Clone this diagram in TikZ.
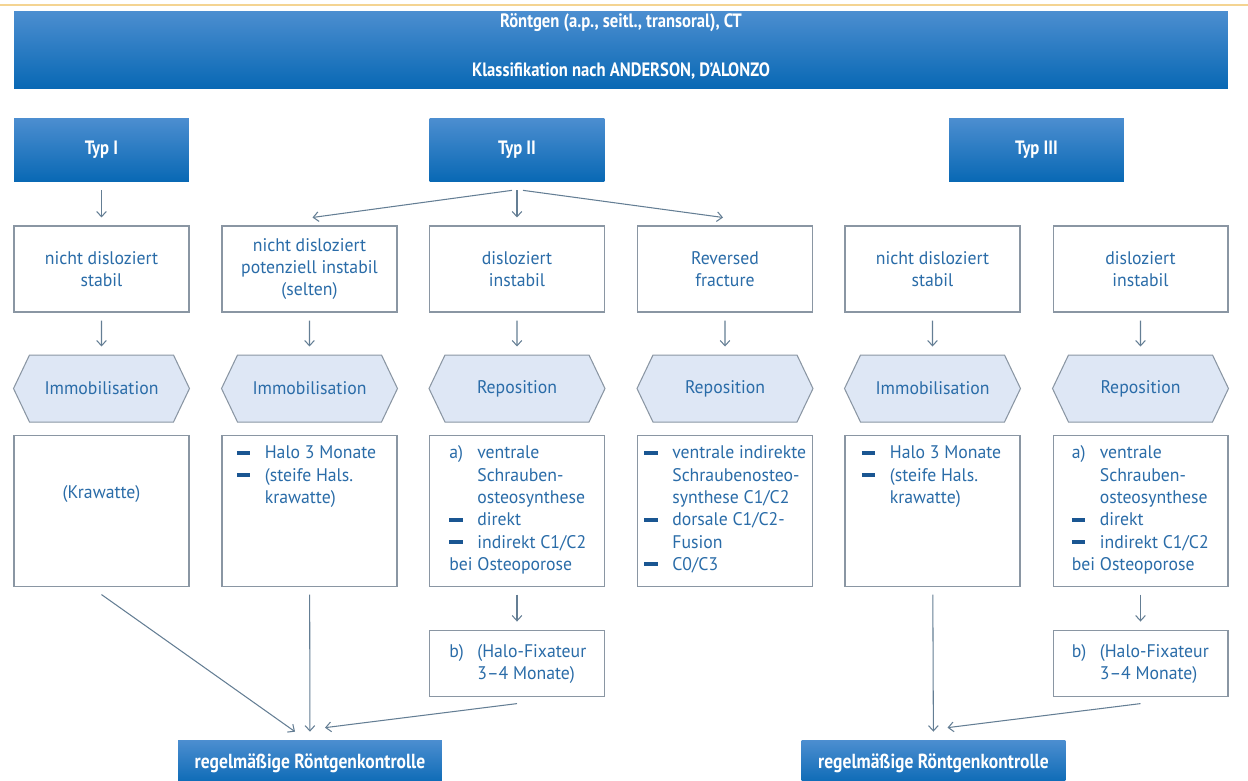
\documentclass[tikz,border=0pt]{standalone}
\usepackage{fontspec}
\setmainfont{PT Sans}[FakeStretch=0.97]
\newfontfamily\hdrfont{PT Sans}[FakeStretch=0.86]
\usepackage{tikz}
\usetikzlibrary{shapes.symbols, arrows.meta, positioning, calc}
\definecolor{hdrtop}{RGB}{76,142,208}
\definecolor{hdrbot}{RGB}{8,104,180}
\definecolor{txtblue}{RGB}{42,108,168}
\definecolor{framegray}{RGB}{138,150,163}
\definecolor{hexfill}{RGB}{222,231,245}
\definecolor{linegray}{RGB}{100,126,148}
\definecolor{bulletblue}{RGB}{26,86,146}
\definecolor{goldline}{RGB}{244,212,146}
\newcommand{\bodyfont}{\fontsize{10.4}{12.7}\selectfont}
\newcommand{\dashitem}{\makebox[0.56cm][l]{\textcolor{bulletblue}{\rule[2.3pt]{0.27cm}{0.08cm}}}}
\newcommand{\hang}{\hspace*{0.56cm}}
\newcommand{\enumlabel}[1]{\makebox[0.56cm][l]{#1}}
\tikzset{
  hdrbox/.style={rectangle, top color=hdrtop, bottom color=hdrbot,
                 minimum width=24.28cm, minimum height=1.56cm},
  hdrtext/.style={text=white, inner sep=0pt,
                  font=\hdrfont\bfseries\fontsize{11}{13}\selectfont},
  typbox/.style={rectangle, top color=hdrtop, bottom color=hdrbot,
                 minimum width=3.5cm, minimum height=1.28cm, text=white,
                 font=\hdrfont\bfseries\fontsize{11}{13}\selectfont},
  catbox/.style={rectangle, draw=framegray, line width=0.6pt, fill=white,
                 minimum width=3.5cm, minimum height=1.72cm, align=center,
                 text=txtblue, font=\bodyfont},
  actbox/.style={signal, signal to=west and east, signal pointer angle=129,
                 draw=framegray, line width=0.6pt, fill=hexfill,
                 minimum width=3.52cm, minimum height=1.34cm, inner xsep=0pt,
                 text=txtblue, font=\bodyfont},
  thbox/.style={rectangle, draw=framegray, line width=0.6pt, fill=white,
                minimum width=3.5cm, minimum height=3.02cm},
  thtext/.style={anchor=north west, align=left, inner sep=0pt,
                 text=txtblue, font=\bodyfont},
  bbox/.style={rectangle, draw=framegray, line width=0.6pt, fill=white,
               minimum width=3.5cm, minimum height=1.32cm},
  kbox/.style={rectangle, top color=hdrtop, bottom color=hdrbot,
               minimum width=5.28cm, minimum height=0.92cm, text=white,
               font=\hdrfont\bfseries\fontsize{11.6}{13}\selectfont},
  arrow/.style={-{Straight Barb[length=3pt,width=5.5pt]}, line width=0.6pt,
                draw=linegray, shorten <=0.16cm, shorten >=0.16cm},
  fan/.style={arrow, shorten <=0pt, shorten >=0pt},
}
\begin{document}
\begin{tikzpicture}[x=0.02cm, y=-0.02cm]
  \useasboundingbox (0,0) rectangle (1248,781);
  \draw[goldline, line width=1.6pt] (0,5) -- (1248,5);

  % Header
  \node[hdrbox] (hdr) at (621,50) {};
  \node[hdrtext] (hdrA) at ($(hdr.north)+(0,12)$) {Röntgen (a.p., seitl., transoral), CT};
  \node[hdrtext] (hdrB) at ($(hdr.north)+(0,60)$) {Klassifikation nach ANDERSON, D’ALONZO};

  % Types
  \node[typbox] (typI) at (101.5,150) {Typ I};
  \node[typbox] (typII) at (517,150) {Typ II};
  \node[typbox] (typIII) at (1036.5,150) {Typ III};

  % Findings
  \node[catbox] (n1) at (101.5,269) {nicht disloziert\\stabil};
  \node[catbox] (n2) at (309.5,269) {nicht disloziert\\potenziell instabil\\(selten)};
  \node[catbox] (n3) at (517,269) {disloziert\\instabil};
  \node[catbox] (n4) at (725,269) {Reversed\\fracture};
  \node[catbox] (n5) at (932.5,269) {nicht disloziert\\stabil};
  \node[catbox] (n6) at (1140.5,269) {disloziert\\instabil};

  % Actions
  \node[actbox, below=0.84cm of n1] (h1) {Immobilisation};
  \node[actbox, below=0.84cm of n2] (h2) {Immobilisation};
  \node[actbox, below=0.84cm of n3] (h3) {Reposition};
  \node[actbox, below=0.84cm of n4] (h4) {Reposition};
  \node[actbox, below=0.84cm of n5] (h5) {Immobilisation};
  \node[actbox, below=0.84cm of n6] (h6) {Reposition};

  % Therapy
  \foreach \i in {1,...,6}
    \node[thbox, below=0.24cm of h\i] (t\i) {};
  \node[text=txtblue, font=\bodyfont] (t1txt) at ($(t1.north)+(0,59)$) {(Krawatte)};
  \node[thtext] (t2txt) at ($(t2.north west)+(15,11)$)
    {\dashitem Halo 3 Monate\\ \dashitem (steife Hals.\\ \hang krawatte)};
  \node[thtext] (t3txt) at ($(t3.north west)+(20,11)$)
    {\enumlabel{a)}ventrale\\ \hang Schrauben-\\ \hang osteosynthese\\
     \dashitem direkt\\ \dashitem indirekt C1/C2\\ bei Osteoporose};
  \node[thtext] (t4txt) at ($(t4.north west)+(7,11)$)
    {\dashitem ventrale indirekte\\ \hang Schraubenosteo-\\ \hang synthese C1/C2\\
     \dashitem dorsale C1/C2-\\ \hang Fusion\\ \dashitem C0/C3};
  \node[thtext] (t5txt) at ($(t5.north west)+(17,11)$)
    {\dashitem Halo 3 Monate\\ \dashitem (steife Hals.\\ \hang krawatte)};
  \node[thtext] (t6txt) at ($(t6.north west)+(19,11)$)
    {\enumlabel{a)}ventrale\\ \hang Schrauben-\\ \hang osteosynthese\\
     \dashitem direkt\\ \dashitem indirekt C1/C2\\ bei Osteoporose};

  \node[bbox, below=0.86cm of t3] (bA) {};
  \node[thtext, anchor=west] (bAtxt) at ($(bA.west)+(20,1)$)
    {\enumlabel{b)}(Halo-Fixateur\\ \hang 3--4 Monate)};
  \node[bbox, below=0.86cm of t6] (bB) {};
  \node[thtext, anchor=west] (bBtxt) at ($(bB.west)+(19,1)$)
    {\enumlabel{b)}(Halo-Fixateur\\ \hang 3--4 Monate)};

  % Control
  \node[kbox] (kL) at (310,763) {regelmäßige Röntgenkontrolle};
  \node[kbox] (kR) at (933.5,763) {regelmäßige Röntgenkontrolle};

  % Arrows
  \draw[arrow] (typI) -- (n1);
  \draw[fan] ($(typII.south)+(-5,8)$) -- ($(n2.north)+(3,-8)$);
  \draw[arrow] (typII) -- (n3);
  \draw[fan] ($(typII.south)+(6,8)$) -- ($(n4.north)+(-2,-8)$);
  \foreach \i in {1,...,6}
    \draw[arrow] (n\i) -- (h\i);
  \draw[arrow] (t3) -- (bA);
  \draw[arrow] (t6) -- (bB);
  \draw[fan] ($(t1.south)+(0,8)$) -- ($(kL.north)+(-15,-8)$);
  \draw[arrow] (t2) -- (kL);
  \draw[fan] ($(bA.south)+(0,7)$) -- ($(kL.north)+(15,-12)$);
  \draw[arrow] (t5) -- (kR);
  \draw[fan] ($(bB.south)+(0,7)$) -- ($(kR.north)+(14,-12)$);
\end{tikzpicture}
\end{document}
